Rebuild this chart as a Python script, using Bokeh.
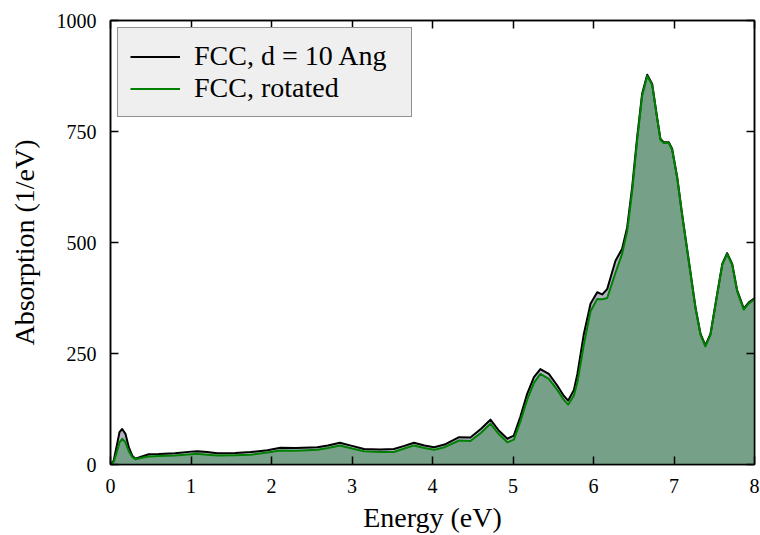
from bokeh.plotting import figure
from bokeh.models import Legend, LegendItem, LinearAxis, FixedTicker, Range1d
from bokeh.embed import file_html
from bokeh.resources import INLINE

energy = [0.00, 0.04, 0.083, 0.112, 0.145, 0.186, 0.227, 0.27, 0.31, 0.39, 0.476, 0.60, 0.80,
          1.00, 1.08, 1.20, 1.33, 1.55, 1.74, 1.95, 2.11, 2.30, 2.57, 2.70, 2.85, 3.00, 3.15,
          3.35, 3.52, 3.65, 3.77, 3.90, 4.02, 4.15, 4.33, 4.47, 4.60, 4.72, 4.826, 4.93, 5.01,
          5.09, 5.176, 5.26, 5.34, 5.445, 5.55, 5.63, 5.686, 5.755, 5.80, 5.88, 5.963, 6.046,
          6.108, 6.17, 6.273, 6.356, 6.418, 6.48, 6.542, 6.604, 6.667, 6.729, 6.79, 6.832,
          6.873, 6.935, 6.977, 7.04, 7.10, 7.184, 7.267, 7.33, 7.39, 7.453, 7.536, 7.60, 7.66,
          7.723, 7.785, 7.867, 7.929, 8.00]
fcc_d10 = [0, 9, 47, 73, 80, 69, 39, 20, 13, 18, 23, 23.5, 25.5,
           29, 30, 28, 25.5, 26, 28, 32, 37.5, 37, 39, 43, 49, 42, 35,
           34, 35, 42, 49, 43, 39, 45, 61.5, 61, 80, 101, 76, 58, 65,
           107, 159, 197, 215, 204, 178, 155, 144, 167, 204, 294, 362, 388,
           383, 395, 459, 486, 534, 624, 737, 835, 878, 857, 782, 733,
           726, 726, 711, 647, 565, 459, 354, 294, 268, 294, 384, 452, 476,
           452, 392, 351, 365, 374]
fcc_rot = [0, 6, 31, 50, 58, 50, 30, 17, 12, 15, 18, 19, 20,
           23, 24, 22, 20, 21, 22, 27, 31.5, 31, 33, 37, 43, 36, 30,
           28, 28, 36, 43, 37, 33, 39, 54, 53, 71, 92, 68, 50, 56,
           96, 146, 184, 204, 193, 168, 146, 135, 155, 185, 270, 345, 373,
           372, 375, 432, 475, 525, 615, 730, 830, 875, 855, 780, 731,
           724, 724, 709, 645, 563, 457, 352, 292, 266, 292, 382, 450, 474,
           450, 390, 349, 363, 372]

x_ticks = [0, 1, 2, 3, 4, 5, 6, 7, 8]
y_ticks = [0, 250, 500, 750, 1000]

FONT = "Liberation Serif"

p = figure(width=760, height=535, output_backend="svg", toolbar_location=None,
           x_range=Range1d(0, 8), y_range=Range1d(0, 1000),
           min_border_left=110, min_border_right=6, min_border_top=20, min_border_bottom=71)
p.grid.visible = False
p.outline_line_color = "black"
p.outline_line_width = 1.5
p.background_fill_color = "white"

p.varea(x=energy, y1=0, y2=fcc_d10, fill_color="#b2b2c4", fill_alpha=1.0)
p.varea(x=energy, y1=0, y2=fcc_rot, fill_color="#76a088", fill_alpha=1.0)
l1 = p.line(energy, fcc_d10, line_color="black", line_width=2, line_join="round")
l2 = p.line(energy, fcc_rot, line_color="#008000", line_width=2, line_join="round")

for ax in (p.xaxis[0], p.yaxis[0]):
    ax.major_tick_in = 8
    ax.major_tick_out = 0
    ax.minor_tick_line_color = None
    ax.axis_line_color = "black"
    ax.axis_line_width = 1.5
    ax.major_tick_line_width = 1.5
    ax.major_label_text_font = FONT
    ax.major_label_text_font_size = "20px"
    ax.major_label_text_color = "black"
    ax.axis_label_text_font = FONT
    ax.axis_label_text_font_size = "28px"
    ax.axis_label_text_font_style = "normal"
    ax.axis_label_text_color = "black"
    ax.major_label_standoff = 14

p.xaxis[0].ticker = FixedTicker(ticks=x_ticks)
p.yaxis[0].ticker = FixedTicker(ticks=y_ticks)
p.xaxis[0].axis_label = "Energy (eV)"
p.yaxis[0].axis_label = "Absorption (1/eV)"
p.xaxis[0].axis_label_standoff = 6
p.yaxis[0].axis_label_standoff = 14

top = LinearAxis(ticker=FixedTicker(ticks=x_ticks), major_label_text_font_size="0px",
                 major_label_standoff=0,
                 major_tick_in=8, major_tick_out=0, minor_tick_line_color=None,
                 axis_line_width=1.5, major_tick_line_width=1.5)
right = LinearAxis(ticker=FixedTicker(ticks=y_ticks), major_label_text_font_size="0px",
                   major_label_standoff=0,
                   major_tick_in=8, major_tick_out=0, minor_tick_line_color=None,
                   axis_line_width=1.5, major_tick_line_width=1.5)
p.add_layout(top, "above")
p.add_layout(right, "right")

legend = Legend(items=[LegendItem(label="FCC, d = 10 Ang", renderers=[l1]),
                       LegendItem(label="FCC, rotated", renderers=[l2])],
                location="top_left", margin=7, padding=12, spacing=0,
                label_text_font=FONT, label_text_font_size="28px", label_text_color="black",
                label_height=29, label_width=205, glyph_height=29, glyph_width=50,
                label_standoff=14,
                background_fill_color="#efefef", background_fill_alpha=1.0,
                border_line_color="#333333", border_line_width=1.5)
p.add_layout(legend)

open("out.html", "w").write(file_html(p, INLINE))
